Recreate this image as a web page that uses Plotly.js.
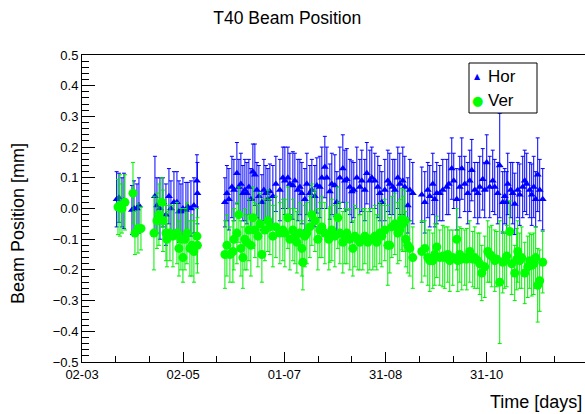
<!DOCTYPE html>
<html>
<head>
<meta charset="utf-8">
<script src="https://cdn.plot.ly/plotly-3.0.1.min.js"></script>
<style>html,body{margin:0;padding:0;background:#fff;}#chart{width:585px;height:414px;}</style>
</head>
<body>
<div id="chart"></div>
<script>
// x: days since 02-03
const xTickVals = [0, 60.75, 121.5, 182.25, 243];
const xTickText = ['02-03', '02-05', '01-07', '31-08', '31-10'];
const seriesNames = ['Hor', 'Ver'];

const horDay = [20.8,22.2,24.0,25.2,30.0,31.2,33.0,34.2,
  43.8,45.0,46.8,48.6,50.4,52.2,53.4,55.2,57.0,58.2,59.4,60.6,62.4,63.6,65.4,67.2,69.0,69.3,
  85.8,87.0,88.2,90.0,91.2,93.0,94.2,95.4,96.6,97.8,99.0,100.2,101.4,102.6,103.8,105.0,106.2,108.0,109.2,110.4,
  111.6,112.8,114.6,116.4,118.8,120.6,121.8,123.6,124.8,126.6,127.8,129.6,130.8,132.0,133.8,135.0,136.8,138.0,139.8,141.0,
  142.8,144.0,145.8,147.0,148.8,150.0,151.8,153.0,154.8,156.6,157.8,159.0,160.8,162.0,163.2,165.0,166.8,168.0,169.8,171.0,
  172.8,174.0,175.8,177.6,178.8,180.0,181.8,183.6,184.8,186.6,187.8,189.6,190.8,192.6,193.8,195.6,196.8,198.6,
  204.0,205.8,207.6,208.8,210.6,211.8,213.0,214.8,216.6,219.0,220.2,222.0,223.2,225.0,226.8,228.0,229.8,231.6,232.8,234.0,
  235.8,237.6,238.8,240.6,241.8,243.0,244.8,246.6,247.8,249.6,250.8,252.6,253.8,255.0,255.6,257.4,258.6,259.8,261.6,262.8,
  264.6,265.8,267.0,268.8,270.0,271.2,272.4,273.6,274.8,276.6];
const horPos = [0.03,0.035,0.02,0.025,-0.005,0.0,0.0,0.01,
  0.04,0.01,0.0,0.02,-0.02,0.04,0.0,0.02,0.02,-0.01,-0.01,0.0,-0.005,0.005,0.0,0.01,0.09,0.05,
  0.02,0.05,0.03,0.07,0.06,0.115,0.07,0.08,0.05,0.06,0.05,0.07,0.03,0.12,0.11,0.06,0.04,0.02,0.06,0.05,
  0.03,0.055,0.04,0.08,0.06,0.1,0.09,0.1,0.08,0.075,0.09,0.06,0.07,0.05,0.03,0.08,0.05,0.06,0.04,0.075,
  0.07,0.1,0.135,0.1,0.055,0.08,0.075,0.02,0.1,0.13,0.09,0.095,0.07,0.055,0.06,0.1,0.07,0.09,0.06,0.115,
  0.09,0.1,0.09,0.07,0.05,0.02,0.06,0.09,0.08,0.07,0.06,0.1,0.08,0.09,0.07,0.01,0.06,0.05,
  0.045,0.02,0.06,0.04,0.08,0.03,0.05,0.05,0.06,0.07,0.08,0.13,0.09,0.03,0.07,0.13,0.08,0.05,0.09,0.125,
  0.06,0.05,0.07,0.095,0.06,0.15,0.07,0.09,0.07,0.05,0.14,0.02,0.04,0.02,0.08,0.06,0.05,0.015,0.06,0.045,
  0.07,0.09,0.08,0.06,0.045,0.07,0.03,0.11,0.06,0.03];
const horErr = [0.09,0.08,0.08,0.09,0.08,0.09,0.08,0.09,
  0.13,0.09,0.1,0.08,0.1,0.09,0.09,0.1,0.1,0.1,0.09,0.1,0.09,0.08,0.09,0.09,0.085,0.1,
  0.08,0.09,0.1,0.1,0.1,0.1,0.09,0.1,0.09,0.1,0.1,0.09,0.1,0.09,0.1,0.09,0.1,0.09,0.1,0.09,
  0.1,0.09,0.1,0.09,0.1,0.1,0.11,0.1,0.1,0.11,0.09,0.1,0.09,0.1,0.1,0.1,0.09,0.1,0.1,0.09,
  0.1,0.1,0.1,0.1,0.09,0.1,0.1,0.1,0.1,0.11,0.1,0.1,0.09,0.1,0.09,0.1,0.09,0.1,0.1,0.1,
  0.1,0.1,0.09,0.1,0.09,0.1,0.1,0.1,0.1,0.09,0.1,0.1,0.1,0.11,0.1,0.09,0.1,0.1,
  0.09,0.1,0.09,0.1,0.1,0.09,0.1,0.09,0.1,0.09,0.1,0.1,0.09,0.1,0.1,0.1,0.09,0.1,0.1,0.1,
  0.09,0.1,0.1,0.1,0.09,0.09,0.1,0.1,0.09,0.1,0.17,0.1,0.09,0.1,0.1,0.09,0.1,0.1,0.09,0.1,
  0.1,0.1,0.1,0.09,0.1,0.1,0.09,0.12,0.1,0.1];

const verDay = [21.6,22.8,24.0,25.8,30.6,31.8,33.6,35.4,
  43.2,45.0,46.2,48.0,48.6,50.4,51.0,52.8,54.6,57.0,58.2,59.4,60.6,61.8,63.0,64.8,66.0,67.2,69.0,69.3,
  85.8,87.0,88.8,90.6,91.2,93.0,94.2,95.4,96.6,97.8,99.0,100.2,101.4,102.6,103.8,105.6,106.8,108.0,109.8,111.6,
  112.8,114.6,116.4,118.8,120.6,121.8,123.6,124.8,126.6,127.8,129.0,130.8,132.0,132.6,133.8,135.0,136.8,138.0,139.8,141.6,
  142.8,144.0,145.8,148.2,148.8,150.0,151.8,153.6,154.8,156.6,157.8,159.0,160.8,162.6,163.8,165.6,166.8,168.6,169.8,171.6,
  172.8,174.6,175.8,177.0,178.8,180.0,181.8,183.6,184.8,186.0,187.8,189.6,190.8,192.0,192.6,193.8,194.4,195.6,196.8,198.6,
  204.0,205.8,207.6,208.8,210.6,211.8,213.0,214.8,216.6,217.8,219.6,220.8,222.6,225.0,225.6,226.8,228.0,229.8,231.0,232.8,
  234.6,235.8,237.6,238.8,240.0,241.8,243.6,244.8,246.0,247.8,249.0,250.8,252.6,253.8,255.0,256.8,258.0,259.8,261.0,261.6,
  262.8,264.0,265.8,267.6,268.8,270.0,271.2,272.4,273.6,274.8,276.6];
const verPos = [0.005,0.01,0.0,0.02,0.05,-0.08,-0.065,-0.065,
  -0.08,-0.04,-0.02,0.02,-0.04,-0.08,-0.1,-0.08,-0.09,-0.08,-0.13,-0.1,-0.16,-0.1,-0.08,-0.13,-0.12,-0.14,-0.09,-0.12,
  -0.15,-0.12,-0.15,-0.14,-0.1,-0.08,-0.02,-0.13,-0.16,-0.1,-0.11,-0.07,-0.12,-0.03,-0.07,-0.09,-0.05,-0.15,-0.07,-0.04,
  -0.06,-0.09,-0.06,-0.08,-0.07,-0.08,-0.03,-0.1,-0.07,-0.09,-0.11,-0.08,-0.13,-0.175,-0.09,-0.08,-0.06,-0.02,-0.04,-0.1,
  -0.07,-0.06,-0.08,-0.1,-0.085,-0.07,-0.09,-0.03,-0.08,-0.11,-0.09,-0.08,-0.1,-0.13,-0.09,-0.1,-0.11,-0.1,-0.09,-0.11,
  -0.1,-0.1,-0.09,-0.11,-0.08,-0.09,-0.07,-0.12,-0.12,-0.06,-0.05,-0.08,-0.07,-0.035,-0.05,-0.04,-0.1,-0.12,-0.13,-0.16,
  -0.14,-0.13,-0.16,-0.17,-0.17,-0.15,-0.125,-0.16,-0.155,-0.16,-0.15,-0.17,-0.16,-0.1,-0.17,-0.15,-0.165,-0.16,-0.165,-0.14,
  -0.165,-0.16,-0.17,-0.18,-0.21,-0.19,-0.14,-0.15,-0.155,-0.17,-0.165,-0.24,-0.175,-0.17,-0.155,-0.075,-0.18,-0.21,-0.165,-0.14,
  -0.17,-0.16,-0.21,-0.19,-0.17,-0.185,-0.18,-0.16,-0.25,-0.235,-0.175];
const verErr = [0.09,0.1,0.08,0.09,0.1,0.07,0.08,0.07,
  0.12,0.09,0.1,0.08,0.1,0.09,0.09,0.09,0.1,0.1,0.09,0.1,0.08,0.1,0.1,0.09,0.1,0.1,0.09,0.09,
  0.11,0.1,0.09,0.1,0.1,0.1,0.09,0.09,0.1,0.1,0.09,0.1,0.1,0.1,0.09,0.1,0.1,0.09,0.1,0.1,
  0.09,0.1,0.1,0.1,0.1,0.11,0.1,0.1,0.1,0.09,0.1,0.1,0.09,0.09,0.1,0.1,0.1,0.1,0.1,0.1,
  0.09,0.1,0.1,0.1,0.09,0.1,0.1,0.1,0.1,0.1,0.09,0.1,0.1,0.09,0.1,0.1,0.09,0.1,0.09,0.1,
  0.1,0.1,0.1,0.09,0.1,0.1,0.1,0.13,0.09,0.1,0.1,0.1,0.1,0.1,0.09,0.1,0.09,0.09,0.09,0.1,
  0.1,0.09,0.09,0.1,0.09,0.1,0.1,0.09,0.1,0.1,0.09,0.1,0.09,0.1,0.1,0.09,0.1,0.09,0.1,0.1,
  0.09,0.1,0.09,0.1,0.09,0.1,0.1,0.09,0.1,0.1,0.09,0.2,0.1,0.09,0.1,0.1,0.1,0.09,0.1,0.1,
  0.09,0.1,0.1,0.1,0.09,0.1,0.1,0.1,0.12,0.1,0.1];

const FONT = '"Liberation Sans", Arial, Helvetica, sans-serif';
const BLUE = '#0000ff', GREEN = '#00ff00';

const traces = [
  {
    type: 'scatter', mode: 'markers', name: seriesNames[0],
    x: horDay, y: horPos,
    error_y: {type: 'data', array: horErr, visible: true, color: BLUE, thickness: 1, width: 2},
    marker: {symbol: 'triangle-up', size: 7, color: BLUE}
  },
  {
    type: 'scatter', mode: 'markers', name: seriesNames[1],
    x: verDay, y: verPos,
    error_y: {type: 'data', array: verErr, visible: true, color: '#00ee00', thickness: 1, width: 2},
    marker: {symbol: 'circle', size: 9, color: GREEN}
  }
];

// legend box geometry in paper coordinates (plot area: x 82..585, y 55..362 px)
const px = v => (v - 82) / 503;
const py = v => (362 - v) / 307;

const layout = {
  width: 585, height: 414,
  margin: {l: 82, r: 0, t: 55, b: 52},
  paper_bgcolor: '#ffffff', plot_bgcolor: '#ffffff',
  font: {family: FONT, size: 13, color: '#000'},
  title: {text: 'T40 Beam Position', font: {family: FONT, size: 17.5, color: '#000'},
          x: 0.491, xanchor: 'center', xref: 'container', y: 0.956, yanchor: 'middle'},
  showlegend: false,
  xaxis: {
    range: [0, 302], showgrid: false, zeroline: false,
    showline: true, linecolor: '#000', linewidth: 1, mirror: true,
    tickmode: 'array', tickvals: xTickVals, ticktext: xTickText,
    ticks: 'inside', ticklen: 10, tickcolor: '#000',
    tickfont: {family: FONT, size: 13, color: '#000'},
    minor: {dtick: 20.25, tick0: 0, ticks: 'inside', ticklen: 6, tickcolor: '#000', showgrid: false}
  },
  yaxis: {
    range: [-0.5, 0.5], showgrid: false, zeroline: false,
    showline: true, linecolor: '#000', linewidth: 1, mirror: true,
    dtick: 0.1, tick0: 0, tickformat: '.1f',
    ticks: 'inside', ticklen: 13, tickcolor: '#000',
    tickfont: {family: FONT, size: 13, color: '#000'},
    minor: {dtick: 0.02, ticks: 'inside', ticklen: 7, tickcolor: '#000', showgrid: false}
  },
  shapes: [
    {type: 'rect', xref: 'paper', yref: 'paper', x0: px(469), x1: px(537), y0: py(113), y1: py(63),
     line: {color: '#000', width: 1}, fillcolor: '#ffffff', layer: 'above'}
  ],
  annotations: [
    {text: 'Beam Position [mm]', xref: 'paper', yref: 'paper', x: -0.127, y: py(224),
     xanchor: 'center', yanchor: 'middle', textangle: -90, showarrow: false,
     font: {family: FONT, size: 18, color: '#000'}},
    {text: 'Time [days]', xref: 'paper', yref: 'paper', x: 0.998, y: -0.13,
     xanchor: 'right', yanchor: 'middle', showarrow: false,
     font: {family: FONT, size: 18, color: '#000'}},
    {text: '▲', xref: 'paper', yref: 'paper', x: px(477), y: py(76), xanchor: 'center', yanchor: 'middle',
     showarrow: false, font: {family: 'DejaVu Sans', size: 8, color: BLUE}},
    {text: seriesNames[0], xref: 'paper', yref: 'paper', x: px(486), y: py(76), xanchor: 'left', yanchor: 'middle',
     showarrow: false, font: {family: FONT, size: 17, color: '#000'}},
    {text: '●', xref: 'paper', yref: 'paper', x: px(477), y: py(101), xanchor: 'center', yanchor: 'middle',
     showarrow: false, font: {family: 'DejaVu Sans', size: 13, color: GREEN}},
    {text: seriesNames[1], xref: 'paper', yref: 'paper', x: px(486), y: py(101), xanchor: 'left', yanchor: 'middle',
     showarrow: false, font: {family: FONT, size: 17, color: '#000'}}
  ]
};

Plotly.newPlot('chart', traces, layout, {displayModeBar: false, staticPlot: true});
</script>
</body>
</html>
